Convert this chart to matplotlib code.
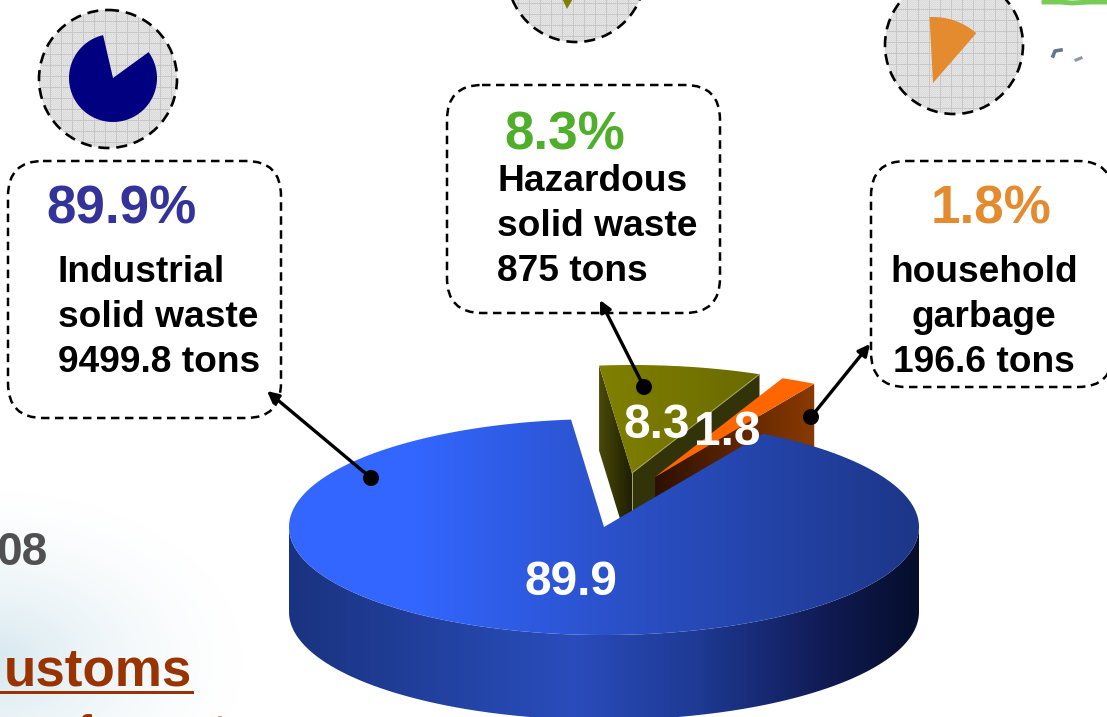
# -*- coding: utf-8 -*-
import numpy as np
import matplotlib
matplotlib.use('Agg')
import matplotlib.pyplot as plt
from matplotlib.colors import LinearSegmentedColormap
from matplotlib.patches import Polygon, Circle, FancyBboxPatch, Rectangle

plt.rcParams['font.family'] = ['Liberation Sans', 'DejaVu Sans']

# ---------------------------- data ----------------------------
names = ['Industrial\nsolid waste', 'Hazardous\nsolid waste', 'household\ngarbage']
shares = [89.9, 8.3, 1.8]
tons = ['9499.8', '875', '196.6']
share_colors = ['#333399', '#4FAE2A', '#E38B2E']

# ---------------------------- layout (pixels) ----------------------------
W, H = 1107, 717
pie_a, pie_b, depth = 315, 108, 85
main_c = (604, 527)
haz_c = (632, 473)
hh_c = (655, 477)
start = 96.0   # parameter angle where the big slice starts

fig = plt.figure(figsize=(W / 100, H / 100), dpi=100)
ax = fig.add_axes([0, 0, 1, 1])


def arc(c, t0, t1, dy=0, n=120):
    t = np.radians(np.linspace(t0, t1, n))
    return np.column_stack([c[0] + pie_a * np.cos(t), c[1] - pie_b * np.sin(t) + dy])


def gradient(patch, stops, x0, x1, y0, y1):
    ax.add_patch(patch)
    patch.set_facecolor('none')
    patch.set_edgecolor('none')
    cm = LinearSegmentedColormap.from_list('g', stops)
    g = np.linspace(0, 1, 256).reshape(1, -1)
    im = ax.imshow(g, cmap=cm, extent=[x0, x1, y1, y0], aspect='auto', zorder=patch.get_zorder(),
                   vmin=0, vmax=1)
    im.set_clip_path(patch)


# soft background glow, lower left
yy, xx = np.mgrid[0:H, 0:W]
dist = np.hypot((xx + 10) / 260.0, (yy - 660) / 175.0)
glow = np.zeros((H, W, 4))
glow[..., 0:3] = [0.84, 0.91, 0.94]
glow[..., 3] = np.clip(1 - dist, 0, 1) ** 1.6
ax.imshow(glow, extent=[0, W, H, 0], aspect='auto', zorder=0)

# ---------------------------- 3D pie ----------------------------
sweep = [s * 3.6 for s in shares]
big_end = start + sweep[0]
haz_end = start - sweep[1]
hh_end = haz_end - sweep[2]

# hazardous slice, pulled out of the pie
p0 = arc(haz_c, start, start, n=1)[0]
p1 = arc(haz_c, haz_end, haz_end, n=1)[0]
apex = np.array(haz_c, float)
gradient(Polygon([p0, apex, apex + [0, depth], p0 + [0, depth]], zorder=2),
         ['#4A4A08', '#1E1E02'], p0[0], apex[0], 300, 600)
ax.add_patch(Polygon([apex, p1, p1 + [0, depth], apex + [0, depth]], fc='#33330A', ec='none', zorder=2))
top = np.vstack([[apex], arc(haz_c, start, haz_end)])
gradient(Polygon(top, zorder=3), ['#808000', '#6A6A00'], p0[0], p1[0], 300, 600)
ax.plot([apex[0], p1[0]], [apex[1], p1[1]], color='#A8A860', lw=0.7, zorder=4)
ax.plot([apex[0], apex[0]], [apex[1], apex[1] + depth], color='#A8A860', lw=0.7, zorder=4)

# household slice
q1 = arc(hh_c, hh_end, hh_end, n=1)[0]
apex2 = np.array(hh_c, float)
gradient(Polygon([apex2, q1, q1 + [0, depth], apex2 + [0, depth]], zorder=2.5),
         ['#2E1000', '#8A3A00'], apex2[0], q1[0], 300, 600)
top2 = np.vstack([[apex2], arc(hh_c, haz_end, hh_end)])
ax.add_patch(Polygon(top2, fc='#FF6600', ec='none', zorder=2.6))

# big slice: wall first, top face on it
wall = np.vstack([arc(main_c, 180, 360), arc(main_c, 360, 180, dy=depth)])
gradient(Polygon(wall, zorder=5),
         [(0, '#1A3380'), (0.3, '#2445A8'), (0.45, '#2A4CBC'), (0.65, '#1E3A94'),
          (0.85, '#111B55'), (1, '#050E2A')], 289, 919, 400, 717)
face = np.vstack([[main_c], arc(main_c, start, big_end, n=300)])
gradient(Polygon(face, zorder=6),
         [(0, '#3366FF'), (0.2, '#3366FF'), (0.55, '#2A4FC4'), (1, '#1C3688')],
         289, 919, 400, 640)

# white value labels
lab_x = [571, 657, 727]
lab_y = [595, 438, 445]
for s, x, y in zip(shares, lab_x, lab_y):
    ax.text(x, y, '%.1f' % s, color='white', fontsize=34.4, fontweight='bold', ha='center', va='baseline', zorder=9)

# ---------------------------- small textured circles ----------------------------
tex = np.full((44, 44), 0.90)
tex[::2, ::2] = 0.84
tex[1::2, 1::2] = 0.86
tex[::11, :] = 0.78
tex[:, ::11] = 0.78
disc_x = [108, 576, 954]
disc_y = [79, -27, 45]
disc_r = 69
for cx, cy in zip(disc_x, disc_y):
    n = 2 * disc_r
    rep = np.tile(tex, (n // 44 + 1, n // 44 + 1))[:n, :n]
    circ = Circle((cx, cy), disc_r, fc='none', ec='none', zorder=1)
    ax.add_patch(circ)
    im = ax.imshow(rep, cmap='gray', vmin=0, vmax=1, extent=[cx - disc_r, cx + disc_r, cy + disc_r, cy - disc_r],
                   aspect='auto', interpolation='nearest', zorder=1)
    im.set_clip_path(circ)
    ax.add_patch(Circle((cx, cy), disc_r, fc='none', ec='black', lw=1.9, ls=(0, (4.2, 2.6)), zorder=2))


def mini(c, r, a0, a1, color):
    t = np.radians(np.linspace(a0, a1, 100))
    ax.add_patch(Polygon(np.vstack([[c], np.column_stack([c[0] + r * np.cos(t), c[1] - r * np.sin(t)])]),
                         fc=color, ec='none', zorder=3))


mini((113, 78), 44, 103, 396, '#000080')
mini((933, 83), 66, 49, 93, '#E38B2E')
mini((567, 9), 40, 60, 115, '#808000')

# ---------------------------- callouts ----------------------------
box_x = [8, 447, 871]
box_y = [161, 85, 161]
box_w = [273, 273, 242]
box_h = [257, 228, 226]
for x, y, w, h in zip(box_x, box_y, box_w, box_h):
    ax.add_patch(FancyBboxPatch((x + 35, y + 35), w - 70, h - 70, boxstyle='round,pad=35,rounding_size=35',
                                fc='white', ec='black', lw=1.8, ls=(0, (3.4, 2.2)), zorder=3, mutation_aspect=1))

pct_x = [122, 565, 991]
pct_y = [224, 149, 224]
name_x = [58, 497, 984]
name_y = [282.5, 191, 282.5]
name_ha = ['left', 'left', 'center']
for i in range(3):
    ax.text(pct_x[i], pct_y[i], '%.1f%%' % shares[i], color=share_colors[i], fontsize=38.2, fontweight='bold',
            ha='center', va='baseline', zorder=5)
    lines = names[i].split('\n') + [tons[i] + ' tons']
    for j, line in enumerate(lines):
        ax.text(name_x[i], name_y[i] + j * 44.8, line, color='black', fontsize=26.7, fontweight='bold',
                ha=name_ha[i], va='baseline', zorder=5)

# pointers
dots = [(371, 478), (644, 387), (811, 417)]
tips = [(267, 391), (600, 300), (870, 344)]
for d, t in zip(dots, tips):
    ax.annotate('', xy=t, xytext=d, zorder=8,
                arrowprops=dict(arrowstyle='-|>', color='black', lw=2.4, mutation_scale=17, shrinkA=0, shrinkB=0))
    ax.add_patch(Circle(d, 8, fc='black', ec='none', zorder=8))

# ---------------------------- fragments of the slide behind ----------------------------
ax.text(47, 565, '08', color='#505050', fontsize=33, fontweight='bold', ha='right', va='baseline', zorder=1)
ax.text(4, 685, 'ustoms', color='#993300', fontsize=38.2, fontweight='bold', ha='left', va='baseline', zorder=1)
ax.add_patch(Rectangle((0, 691), 194, 3, fc='#993300', ec='none', zorder=1))
ax.text(84, 745, 'f', color='#993300', fontsize=30, fontweight='bold', ha='center', va='baseline', zorder=1)
ax.text(219, 745, 't', color='#993300', fontsize=30, fontweight='bold', ha='center', va='baseline', zorder=1)
ax.plot([1044, 1060, 1072, 1090, 1107], [2, 2, 3, 2, 2], color='#77CC55', lw=3.5, zorder=1)
ax.plot([1053, 1055, 1061], [56, 51, 50], color='#667788', lw=2.6, zorder=1)
ax.plot([1076, 1081], [60, 58], color='#8899AA', lw=2.2, zorder=1)

ax.set_xlim(0, W)
ax.set_ylim(H, 0)
ax.axis('off')

plt.savefig('out.png', dpi=100)
plt.close()
